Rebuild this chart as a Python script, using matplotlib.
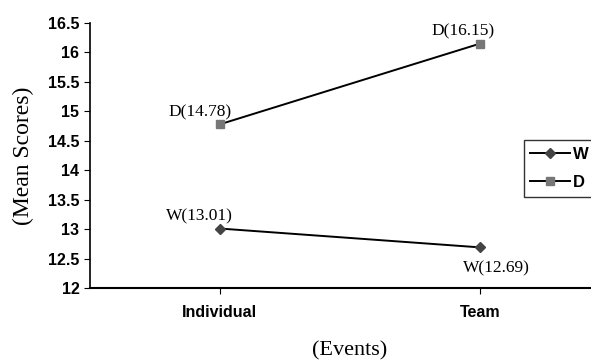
import matplotlib.pyplot as plt

events = ["Individual", "Team"]
w_scores = [13.01, 12.69]
d_scores = [14.78, 16.15]
y_ticks = [12, 12.5, 13, 13.5, 14, 14.5, 15, 15.5, 16, 16.5]
y_tick_labels = ["12", "12.5", "13", "13.5", "14", "14.5", "15", "15.5", "16", "16.5"]

fig = plt.figure(figsize=(5.91, 3.6), dpi=100)
# plot area runs off the right edge of the page, like the scan
ax = fig.add_axes([0.152, 0.2, 0.88, 0.736])

x = [0.25, 0.75]
ax.plot(x, w_scores, color="black", lw=1.4, marker="D", ms=5,
        mfc="#444444", mec="#444444", label="W")
ax.plot(x, d_scores, color="black", lw=1.4, marker="s", ms=5.5,
        mfc="#777777", mec="#777777", label="D")

serif = "Liberation Serif"
ax.annotate(f"D({d_scores[0]:.2f})", (x[0], d_scores[0]), xytext=(-14, 6),
            textcoords="offset points", ha="center", family=serif, fontsize=12.5)
ax.annotate(f"D({d_scores[1]:.2f})", (x[1], d_scores[1]), xytext=(-12, 6),
            textcoords="offset points", ha="center", family=serif, fontsize=12.5)
ax.annotate(f"W({w_scores[0]:.2f})", (x[0], w_scores[0]), xytext=(-15, 6),
            textcoords="offset points", ha="center", family=serif, fontsize=12.5)
ax.annotate(f"W({w_scores[1]:.2f})", (x[1], w_scores[1]), xytext=(12, -18),
            textcoords="offset points", ha="center", family=serif, fontsize=12.5)

ax.set_xlim(0, 1)
ax.set_ylim(12, 16.5)
ax.set_yticks(y_ticks)
ax.set_yticklabels(y_tick_labels, family="Liberation Sans", fontweight="bold", fontsize=11.5)
ax.set_xticks(x)
ax.set_xticklabels(events, family="Liberation Sans", fontweight="bold", fontsize=11.5)
ax.tick_params(axis="x", pad=8, length=4)
ax.tick_params(axis="y", length=4)
for s in ["top", "right"]:
    ax.spines[s].set_visible(False)
ax.spines["left"].set_linewidth(1.2)
ax.spines["bottom"].set_linewidth(1.5)

ax.set_ylabel("(Mean Scores)", family=serif, fontsize=17)
ax.yaxis.set_label_coords(-0.108, 0.5)
ax.set_xlabel("(Events)", family=serif, fontsize=16)
ax.xaxis.set_label_coords((350 - 90) / 520, -0.2)

leg = fig.legend(loc="upper left", bbox_to_anchor=(0.886, 0.611), borderaxespad=0,
                 prop={"family": "Liberation Sans", "weight": "bold", "size": 12},
                 frameon=True, fancybox=False, edgecolor="black",
                 handlelength=2.4, borderpad=0.4, labelspacing=0.8, handletextpad=0.15)
leg.get_frame().set_linewidth(1.0)

fig.savefig("out.png", dpi=100)
